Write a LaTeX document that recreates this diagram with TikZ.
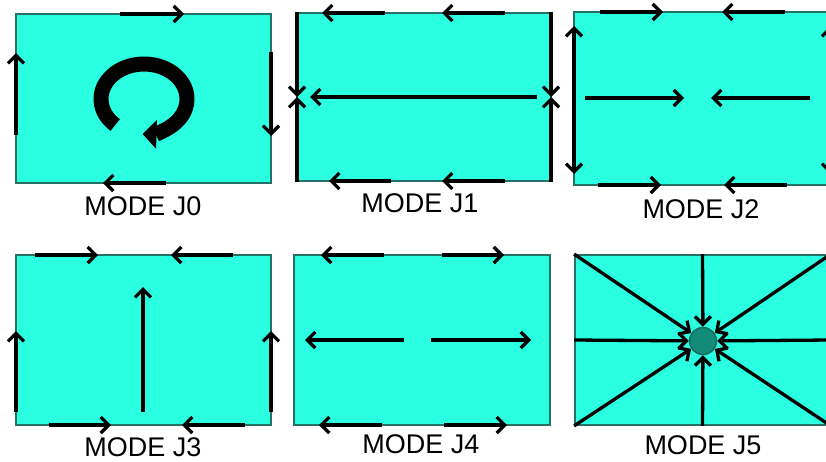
\documentclass[tikz,border=0pt]{standalone}
\usepackage{fontspec}
\setmainfont{Liberation Sans}
\usetikzlibrary{arrows.meta}
\definecolor{aqua}{RGB}{42,255,225}
\definecolor{edgeteal}{RGB}{38,112,102}
\definecolor{hubfill}{RGB}{18,140,120}
\definecolor{hubedge}{RGB}{22,108,94}
\tikzset{
  panel/.style={draw=edgeteal, fill=aqua, line width=1.8pt, inner sep=0pt},
  barb/.tip={Straight Barb[length=8pt,width=16pt]},
  vec/.style={line width=3.3pt, -barb},
  twovec/.style={line width=3.3pt, barb-barb},
  swirl/.style={line width=15pt, -{Triangle[length=14pt,width=28pt]}},
  modelabel/.style={font=\fontsize{27pt}{30pt}\selectfont, anchor=base, inner sep=0pt},
}
\begin{document}
\begin{tikzpicture}[x=1pt, y=-1pt]
\clip (0,0) rectangle (826,461);

% ---------- panels ----------
\node[panel, minimum width=255pt, minimum height=169pt] (p0) at (143.5,98.5) {};
\node[panel, minimum width=254pt, minimum height=168pt] (p1) at (424,97) {};
\node[panel, minimum width=256pt, minimum height=173pt] (p2) at (702,98.5) {};
\node[panel, minimum width=255pt, minimum height=170pt] (p3) at (143.5,340) {};
\node[panel, minimum width=256pt, minimum height=170pt] (p4) at (422,340) {};
\node[panel, minimum width=255pt, minimum height=170pt] (p5) at (702.5,340) {};

% ---------- J0: circulating mode ----------
\draw[vec] (120,14) -- (184,14);
\draw[vec] (271,52) -- (271,136);
\draw[vec] (166,183) -- (103,183);
\draw[vec] (16,135) -- (16,53);
\coordinate (c0) at (144,99);
\draw[swirl] (c0) ++(228:43pt and 35pt)
  arc[start angle=228, end angle=-92, x radius=43pt, y radius=35pt];

% ---------- J1 ----------
\draw[vec] (385,13) -- (322,13);
\draw[vec] (505,13) -- (442,13);
\draw[vec] (391,181) -- (329,181);
\draw[vec] (505,181) -- (442,181);
\draw[vec] (537,97) -- (310,97);
\draw[vec] (297,12) -- (297,97);
\draw[vec] (297,182) -- (297,97);
\draw[vec] (551,12) -- (551,97);
\draw[vec] (551,182) -- (551,97);

% ---------- J2 ----------
\draw[vec] (600,12) -- (663,12);
\draw[vec] (785,12) -- (722,12);
\draw[vec] (598,185) -- (661,185);
\draw[vec] (787,185) -- (724,185);
\draw[twovec] (574,26) -- (574,174);
\draw[twovec] (830,26) -- (830,174);
\draw[vec] (585,98) -- (684,98);
\draw[vec] (810,98) -- (711,98);

% ---------- J3 ----------
\draw[vec] (35,255) -- (98,255);
\draw[vec] (233,255) -- (171,255);
\draw[vec] (49,425) -- (111,425);
\draw[vec] (245,425) -- (182,425);
\draw[vec] (16,412) -- (16,331);
\draw[vec] (271,412) -- (271,331);
\draw[vec] (143,412) -- (143,287);

% ---------- J4 ----------
\draw[vec] (384,255) -- (321,255);
\draw[vec] (442,255) -- (504,255);
\draw[vec] (382,425) -- (319,425);
\draw[vec] (444,425) -- (507,425);
\draw[vec] (404,340) -- (305,340);
\draw[vec] (431,340) -- (531,340);

% ---------- J5: converging mode ----------
\node[circle, draw=hubedge, fill=hubfill, line width=1.5pt, minimum size=27pt, inner sep=0pt] (hub) at (703,341) {};
\foreach \a in {north west, north, north east, east, south east, south, south west, west}
  \draw[vec] (p5.\a) -- (hub);

% ---------- labels ----------
\node[modelabel] (l0) at (143,215) {MODE J0};
\node[modelabel] (l1) at (420,212) {MODE J1};
\node[modelabel] (l2) at (701,218) {MODE J2};
\node[modelabel] (l3) at (143,456) {MODE J3};
\node[modelabel] (l4) at (421,453) {MODE J4};
\node[modelabel] (l5) at (703,454) {MODE J5};
\end{tikzpicture}
\end{document}
